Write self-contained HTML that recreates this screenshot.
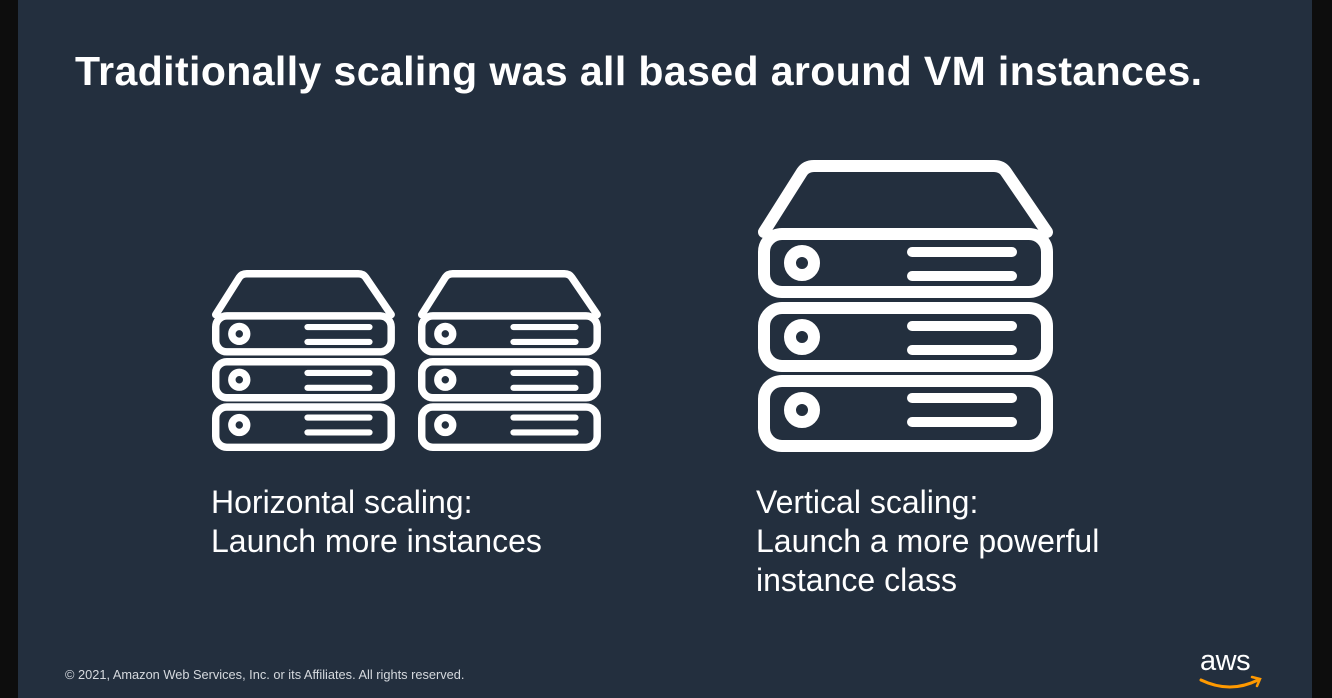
<!DOCTYPE html>
<html><head><meta charset="utf-8"><style>
html,body{margin:0;padding:0}
body{width:1332px;height:698px;background:#0d0d0d;position:relative;overflow:hidden;font-family:"Liberation Sans",sans-serif}
#slide{position:absolute;left:18px;top:0;width:1294px;height:698px;background:#232f3e}
.t{position:absolute;color:#fff;white-space:nowrap}
</style></head><body>
<div id="slide"></div>
<div class="t" style="left:75px;top:48px;font-size:41px;font-weight:bold;letter-spacing:0.4px">Traditionally scaling was all based around VM instances.</div>
<div class="t" style="left:211px;top:483px;font-size:32px;line-height:39px">Horizontal scaling:<br>Launch more instances</div>
<div class="t" style="left:756px;top:483px;font-size:32px;line-height:39px">Vertical scaling:<br>Launch a more powerful<br>instance class</div>
<div class="t" style="left:65px;top:667px;font-size:12.8px;color:#d5d9de">© 2021, Amazon Web Services, Inc. or its Affiliates. All rights reserved.</div>
<div class="t" style="left:1200px;top:645px;font-size:29px;color:#fff;letter-spacing:-0.5px">aws</div>
<svg width="1332" height="698" style="position:absolute;left:0;top:0">
<defs>
<g id="srv" fill="none" stroke="#fff" stroke-width="12" stroke-linejoin="round" stroke-linecap="round">
<path d="M764,232 L802,172 Q806,166 814,166 L994,166 Q1002,166 1006,172 L1047,232"/>
<rect x="764" y="234" width="283" height="58" rx="18"/>
<rect x="764" y="308" width="283" height="58" rx="18"/>
<rect x="764" y="381" width="283" height="65" rx="18"/>
<circle cx="802" cy="263" r="12"/><circle cx="802" cy="337" r="12"/><circle cx="802" cy="410" r="12"/>
<path d="M912,252H1012M912,276H1012M912,326H1012M912,350H1012M912,398H1012M912,422H1012" stroke-width="10"/>
</g>
</defs>
<use href="#srv"/>
<use href="#srv" transform="translate(212,270) scale(0.62) translate(-758,-160)"/>
<use href="#srv" transform="translate(418,270) scale(0.62) translate(-758,-160)"/>
<path d="M1201,680 Q1230,694 1258,680" fill="none" stroke="#f90" stroke-width="3" stroke-linecap="round"/>
<path d="M1252,677 L1260,679 L1257,686" fill="none" stroke="#f90" stroke-width="2.5" stroke-linecap="round"/>
</svg>
</body></html>
